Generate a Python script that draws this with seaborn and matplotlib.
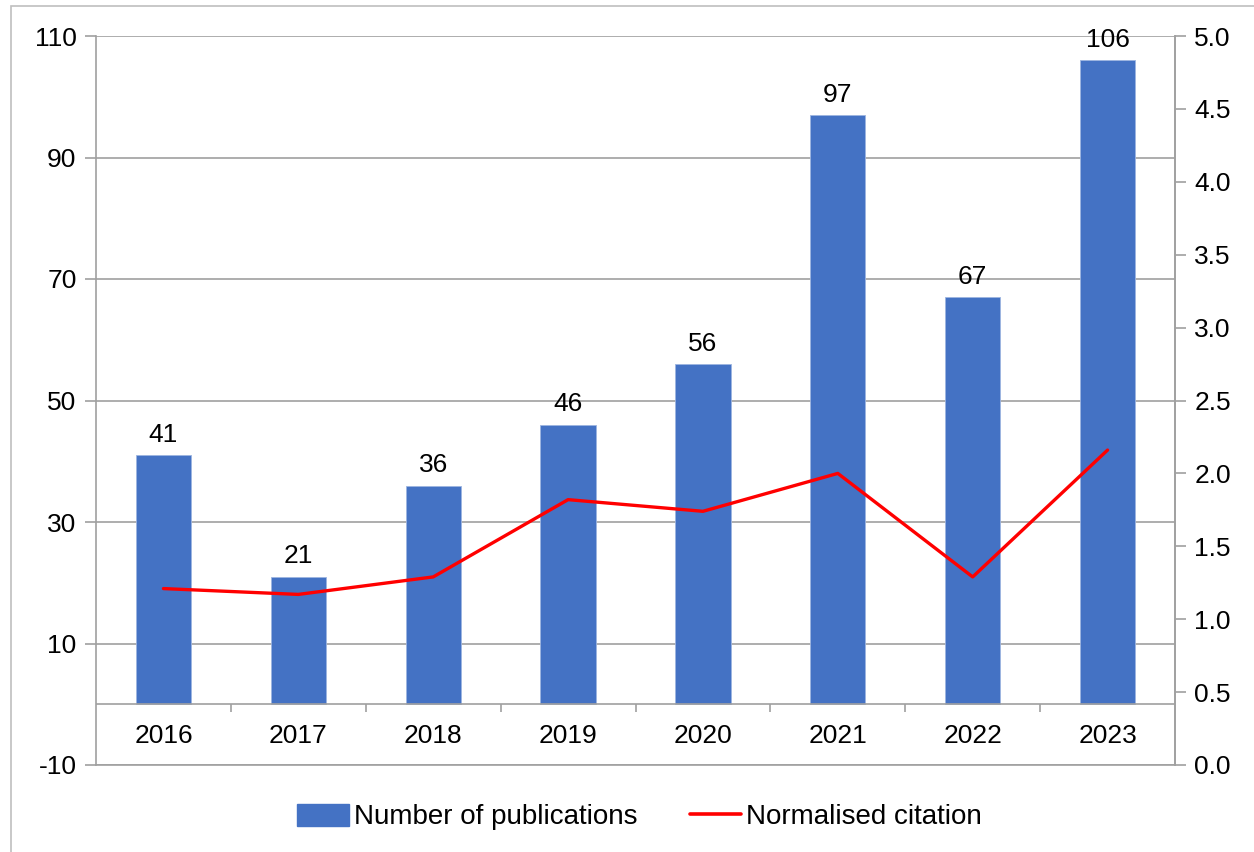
import matplotlib
matplotlib.use("Agg")
import matplotlib.pyplot as plt
import matplotlib.patches as mpatches
from matplotlib.lines import Line2D
import numpy as np
import seaborn as sns

years = ["2016", "2017", "2018", "2019", "2020", "2021", "2022", "2023"]
publications = [41, 21, 36, 46, 56, 97, 67, 106]
norm_citation = [1.21, 1.17, 1.29, 1.82, 1.74, 2.00, 1.29, 2.16]
left_ticks = [-10, 10, 30, 50, 70, 90, 110]
right_ticks = [0.0, 0.5, 1.0, 1.5, 2.0, 2.5, 3.0, 3.5, 4.0, 4.5, 5.0]

sns.set_style("white")
plt.rcParams["font.family"] = ["Liberation Sans", "DejaVu Sans"]
plt.rcParams["axes.unicode_minus"] = False

BLUE = "#4472C4"
GRID = "#a0a0a0"
FS = 19

fig = plt.figure(figsize=(12.54, 8.52), dpi=100)
ax = fig.add_axes([96 / 1254, 1 - 765 / 852, (1175 - 96) / 1254, (765 - 36) / 852])

# outer chart frame
fig.patches.append(mpatches.Rectangle((11 / 1254, -0.05), 1.1, 1 - 6 / 852 + 0.05,
                                      transform=fig.transFigure, fill=False,
                                      edgecolor="#bfbfbf", linewidth=1.2))

sns.barplot(x=years, y=publications, color=BLUE, width=0.41, ax=ax,
            edgecolor="#9db5e0", linewidth=0.6, saturation=1, zorder=3)
ax.bar_label(ax.containers[0], padding=6, fontsize=FS, color="black")

ax.set_xlim(-0.5, len(years) - 0.5)
ax.set_ylim(-10, 110)
ax.set_yticks(left_ticks)
ax.yaxis.grid(True, color=GRID, linewidth=1.2, zorder=0)
ax.set_axisbelow(True)
ax.tick_params(axis="y", length=8, width=1.2, color=GRID, labelsize=FS, labelcolor="black",
               pad=6, left=True)
ax.set_xticks([])
ax.set_xlabel("")
ax.set_ylabel("")

# category axis at zero with boundary ticks
ax.axhline(0, color=GRID, linewidth=1.2, zorder=4)
ax.vlines(np.arange(len(years) - 1) + 0.5, -1.3, 0, color=GRID, linewidth=1.2, zorder=4)
for i, y in enumerate(years):
    ax.text(i, -5.3, y, ha="center", va="center", fontsize=FS, color="black")

for side in ["left", "right", "bottom"]:
    ax.spines[side].set_color(GRID)
    ax.spines[side].set_linewidth(1.2)
ax.spines["top"].set_visible(False)

ax2 = ax.twinx()
sns.lineplot(x=np.arange(len(years)), y=norm_citation, color="#ff0000",
             linewidth=2.4, ax=ax2)
ax2.set_ylim(0, 5)
ax2.set_yticks(right_ticks)
ax2.set_yticklabels([f"{v:.1f}" for v in right_ticks])
ax2.tick_params(axis="y", length=8, width=1.2, color=GRID, labelsize=FS, labelcolor="black",
                pad=6, right=True)
for side in ["left", "top", "bottom"]:
    ax2.spines[side].set_visible(False)
ax2.spines["right"].set_color(GRID)
ax2.spines["right"].set_linewidth(1.2)
ax2.set_ylabel("")

handles = [mpatches.Patch(color=BLUE, label="Number of publications"),
           Line2D([0], [0], color="#ff0000", linewidth=2.6, label="Normalised citation")]
fig.legend(handles=handles, loc="center", bbox_to_anchor=(0.51, 1 - 817 / 852), ncol=2,
           frameon=False, fontsize=20, handlelength=1.85, handleheight=0.85,
           handletextpad=0.18, columnspacing=1.9, labelcolor="black")

fig.savefig("out.png", dpi=100)
